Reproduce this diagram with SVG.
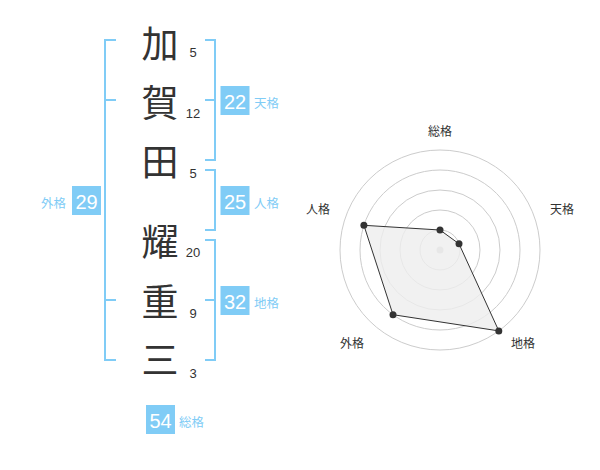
<svg xmlns="http://www.w3.org/2000/svg" width="600" height="470" viewBox="0 0 600 470">
<style>
.kanji{font-family:"Noto Sans CJK JP","Noto Sans CJK SC",sans-serif;font-size:37px;fill:#333;text-anchor:middle;dominant-baseline:central}
.num{font-family:"Liberation Sans",Arial,sans-serif;font-size:13px;fill:#333;text-anchor:middle}
.br{fill:none;stroke:#80ccf6;stroke-width:2}
.box{fill:#80ccf6}
.bt{font-family:"Liberation Sans",Arial,sans-serif;font-size:20px;fill:#fff;text-anchor:middle}
.bl{font-family:"Noto Sans CJK JP","Noto Sans CJK SC",sans-serif;font-size:12.5px;fill:#80ccf6}
.ring{fill:none;stroke:#ccc;stroke-width:1}
.rl{font-family:"Noto Sans CJK JP","Noto Sans CJK SC",sans-serif;font-size:12px;fill:#333;text-anchor:middle;dominant-baseline:central}
.dot{fill:#333}
</style>
<rect width="600" height="470" fill="#fff"/>
<g id="chars">
<g id="c1"><text class="kanji" x="160" y="42">加</text><text class="num" x="193" y="57">5</text></g>
<g id="c2"><text class="kanji" x="160" y="101">賀</text><text class="num" x="193" y="118">12</text></g>
<g id="c3"><text class="kanji" x="160" y="160">田</text><text class="num" x="193" y="178">5</text></g>
<g id="c4"><text class="kanji" x="160" y="240">耀</text><text class="num" x="193" y="257">20</text></g>
<g id="c5"><text class="kanji" x="160" y="300">重</text><text class="num" x="193" y="318">9</text></g>
<g id="c6"><text class="kanji" x="160" y="358">三</text><text class="num" x="193" y="378">3</text></g>
</g>
<g id="connectors">
<path class="br" d="M116,40 H105 V360 H116 M105,100 H116 M105,300 H116"/>
<path class="br" d="M205,40 H215 V160 H205 M215,100 H205"/>
<path class="br" d="M205,170 H215 V230 H205"/>
<path class="br" d="M205,240 H215 V360 H205 M215,300 H205"/>
</g>
<g id="tenkaku"><rect class="box" x="220.5" y="86" width="29" height="29"/><text class="bt" x="235" y="108.5">22</text><text class="bl" x="254" y="108">天格</text></g>
<g id="jinkaku"><rect class="box" x="220.5" y="186" width="29" height="29"/><text class="bt" x="235" y="208.5">25</text><text class="bl" x="254" y="208">人格</text></g>
<g id="chikaku"><rect class="box" x="220.5" y="286" width="29" height="29"/><text class="bt" x="235" y="308.5">32</text><text class="bl" x="254" y="308">地格</text></g>
<g id="gaikaku"><rect class="box" x="72" y="186" width="29" height="29"/><text class="bt" x="86.5" y="208.5">29</text><text class="bl" x="41" y="208">外格</text></g>
<g id="sokaku"><rect class="box" x="146" y="405" width="29" height="29"/><text class="bt" x="160.5" y="427.5">54</text><text class="bl" x="179" y="427">総格</text></g>
<g id="radar">
<circle class="ring" cx="440" cy="250" r="20"/>
<circle class="ring" cx="440" cy="250" r="40"/>
<circle class="ring" cx="440" cy="250" r="60"/>
<circle class="ring" cx="440" cy="250" r="80"/>
<circle class="ring" cx="440" cy="250" r="100"/>
<circle cx="440" cy="250" r="3.5" fill="#ccc"/>
<polygon points="440,230 459,243.8 498.8,330.9 393,314.7 363.9,225.3" fill="#eee" fill-opacity="0.8" stroke="#333" stroke-width="1"/>
<circle class="dot" cx="440" cy="230" r="3.5"/>
<circle class="dot" cx="459" cy="243.8" r="3.5"/>
<circle class="dot" cx="498.8" cy="330.9" r="3.5"/>
<circle class="dot" cx="393" cy="314.7" r="3.5"/>
<circle class="dot" cx="363.9" cy="225.3" r="3.5"/>
<text class="rl" x="440" y="130">総格</text>
<text class="rl" x="562" y="208">天格</text>
<text class="rl" x="318" y="208">人格</text>
<text class="rl" x="352" y="342">外格</text>
<text class="rl" x="523" y="342">地格</text>
</g>
</svg>
